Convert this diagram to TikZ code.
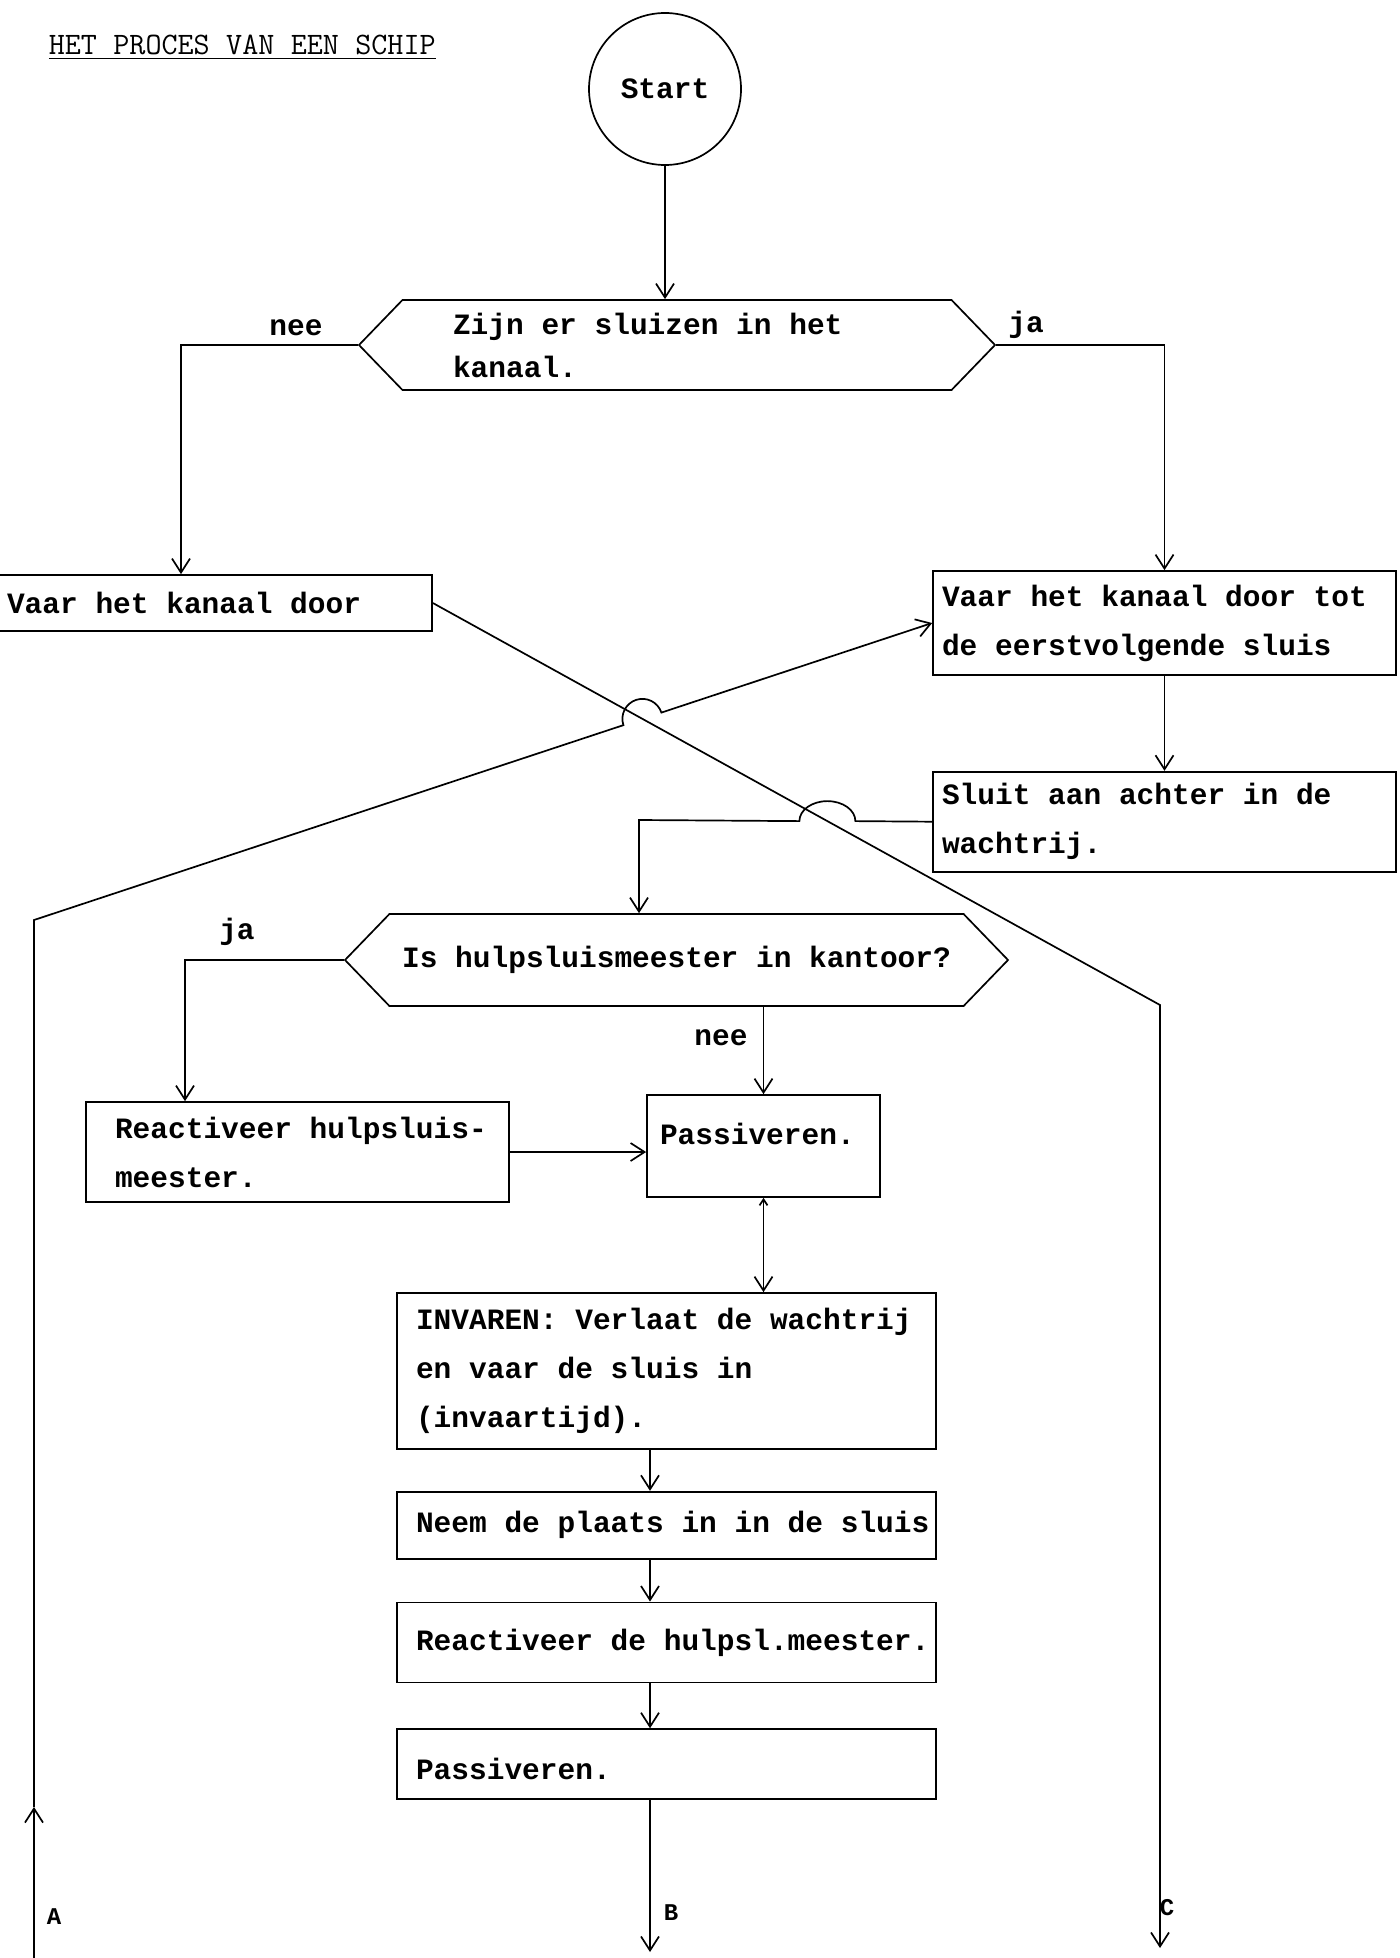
\documentclass[tikz,border=0pt]{standalone}
\usepackage{fontspec}
\newfontfamily\typer{Liberation Mono}
\newcommand\schrijf{\typer\bfseries\fontsize{14.75pt}{24.5pt}\selectfont}
\newcommand\vraagschrift{\schrijf\baselineskip=21.5pt\relax}
\newcommand\kleinschrift{\typer\bfseries\fontsize{12pt}{14pt}\selectfont}
\newcommand\titelschrift{\ttfamily\fontsize{15.6pt}{18pt}\selectfont\spaceskip=0.525em\relax}
\newcommand\vastespatie{\spaceskip=0.6em\relax\xspaceskip=0.6em\relax\rightskip=0pt plus 1fil minus 100pt\relax}
\usetikzlibrary{arrows.meta,positioning,shapes.symbols,calc}

\begin{document}
\begin{tikzpicture}[x=0.5pt,y=0.5pt,>={Straight Barb[length=7pt,width=9pt]},line width=0.85pt,
		font=\schrijf,execute at begin node=\vastespatie]
		\tikzstyle{box}=[draw,rectangle,inner sep=0pt,align=flush left]
		\tikzstyle{wide}=[box,minimum width=269.5pt,text width=250.5pt]
		\tikzstyle{ask}=[draw,signal,signal to=west and east,signal pointer angle=92,inner sep=0pt,align=flush left]
		\tikzstyle{tag}=[inner sep=1pt]
		\tikzstyle{exit}=[inner sep=1pt,font=\kleinschrift]
		\useasboundingbox (0,0) rectangle (1399,-1958);
		\clip (0,0) rectangle (1399,-1958);
		\node[anchor=base west,inner sep=0pt,execute at begin node=\titelschrift,font=\titelschrift] (titel) at (48,-55) {\underline{HET PROCES VAN EEN SCHIP}};
		\node[draw,circle,minimum size=76pt,inner sep=0pt] (S) at (665,-89) {Start};
		\node[ask,minimum width=318pt,minimum height=45pt,text width=224pt,font=\vraagschrift] (D1) at (677,-345) {Zijn er sluizen in het\\kanaal.};
		\node[box,minimum width=219pt,minimum height=28pt,text width=206pt] (L1) at (213,-603) {Vaar het kanaal door};
		\node[box,minimum width=231.5pt,minimum height=52pt,text width=222.5pt] (R1) at (1164.5,-623) {Vaar het kanaal door tot\\de eerstvolgende sluis};
		\node[box,minimum width=231.5pt,minimum height=50pt,text width=222.5pt] (R2) [below=47.5pt of R1] {Sluit aan achter in de\\wachtrij.};
		\node[ask,minimum width=331.5pt,minimum height=46pt] (D2) at (676.5,-960) {Is hulpsluismeester in kantoor?};
		\node[box,minimum width=211.5pt,minimum height=50pt,text width=182.5pt] (RH) at (297.5,-1152) {Reactiveer hulpsluis-\\meester.};
		\node[box,minimum width=116.5pt,minimum height=51pt,text width=103.5pt,text depth=12pt] (P1) at (763.5,-1146) {Passiveren.};
		\node[wide,minimum height=78pt] (IV) at (666.5,-1371) {INVAREN: Verlaat de wachtrij\\en vaar de sluis in\\(invaartijd).};
		\node[wide,minimum height=33.5pt] (NP) [below=20.5pt of IV] {Neem de plaats in in de sluis};
		\node[wide,minimum height=40pt] (RD) [below=21pt of NP] {Reactiveer de hulpsl.meester.};
		\node[wide,minimum height=35pt,text height=16pt] (P2) [below=22.5pt of RD] {Passiveren.};
		\node[tag] (nee1) at (296,-328) {nee};
		\node[tag] (ja1) at (1026,-325) {ja};
		\node[tag] (ja2) at (237,-932) {ja};
		\node[tag] (nee2) at (721,-1038) {nee};
		\node[exit] (labA) at (54,-1917) {A};
		\node[exit] (labB) at (671,-1913) {B};
		\node[exit] (labC) at (1167,-1908) {C};
		\coordinate (neeturn) at (181,-345);
		\coordinate (jaturn) at (185,-960);
		\coordinate (qturn) at (639,-820);
		\coordinate (Acorner) at (34,-920);
		\coordinate (Amid) at (34,-1807);
		\coordinate (Abot) at (34,-1960);
		\coordinate (Ccorner) at (1160,-1005);
		\coordinate (Cend) at (1160,-1948);
		\coordinate (Bend) at (650,-1952);
		\coordinate (X1) at (intersection of L1.east--Ccorner and Acorner--R1.west);
		\coordinate (X2) at (intersection of L1.east--Ccorner and R2.west--qturn);
		\draw[->] (S) -- (S |- D1.north);
		\draw[->] (D1.west) -- (neeturn) -- (neeturn |- L1.north);
		\draw[->] (D1.east) -| (R1.north);
		\draw[->] (R1) -- (R2);
		\draw[->] (L1.east) -- (Ccorner) -- (Cend);
		\draw[->] (R2.west) -- ($(X2)+(28,0)$) arc[start angle=0,end angle=180,x radius=14pt,y radius=10pt] -- (qturn) -- (qturn |- D2.north);
		\draw[->] (Abot) -- (Amid);
		\draw[->] let \p1=($(R1.west)-(Acorner)$), \n1={atan2(\y1,\x1)} in
			(Amid) -- (Acorner) -- ($(X1)!10pt!(Acorner)$) arc[start angle=\n1+180,end angle=\n1,radius=10pt] -- (R1.west);
		\draw[->] (D2.west) -- (jaturn) -- (jaturn |- RH.north);
		\draw[->] (D2.south -| P1.north) -- (P1.north);
		\draw[->] (RH.east) -- (RH.east -| P1.west);
		\draw[{Straight Barb[length=3pt,width=4pt]}->] (P1.south) -- (P1.south |- IV.north);
		\draw[->] (IV.south -| Bend) -- (NP.north -| Bend);
		\draw[->] (NP.south -| Bend) -- (RD.north -| Bend);
		\draw[->] (RD.south -| Bend) -- (P2.north -| Bend);
		\draw[->] (P2.south -| Bend) -- (Bend);
	\end{tikzpicture}
\end{document}
